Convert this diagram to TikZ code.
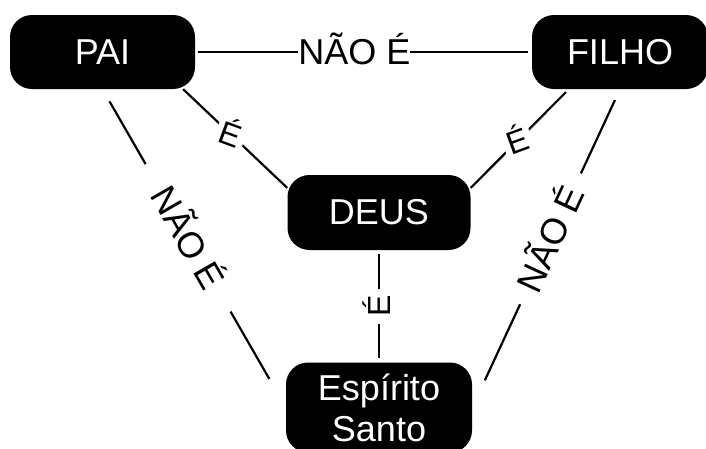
\documentclass[tikz,border=0pt]{standalone}
\usepackage{fontspec}
\setmainfont{Liberation Sans}
\usetikzlibrary{calc}

\begin{document}
\begin{tikzpicture}[x=1pt,y=-1pt]
                        \tikzstyle{every node}=[inner sep=0]
                        \tikzstyle{pessoa}=[fill=black,text=white,rounded corners=22,minimum width=185,minimum height=74,font=\fontsize{36}{41}\selectfont]
                        \tikzstyle{ligacao}=[draw=black,line width=2.2]
                        \tikzstyle{rotulo}=[fill=white,text=black,text height=26,font=\fontsize{36}{41}\selectfont]
                        \tikzstyle{rotulo0}=[rotulo,text height=23,inner sep=4,font=\fontsize{32}{36}\selectfont]
                        {
                            \useasboundingbox (0,0) rectangle (706,448);
                            \fill[white] (0,0) rectangle (706,448);

                            \node[pessoa] (pai) at (102.5,52) {PAI};
                            \node[pessoa,minimum width=176] (filho) at (620,52) {FILHO};
                            \node[pessoa,minimum width=183,minimum height=75] (deus) at (379,212.5) {DEUS};
                            \node[pessoa,minimum width=186,minimum height=90,align=center] (espirito) at (379,407.5) {Espírito\\Santo};

                            \draw[ligacao,shorten <=3,shorten >=4] (pai) -- node[rotulo,pos=0.473] {NÃO É} (filho);
                            \draw[ligacao,shorten <=14,shorten >=33] (pai.south) -- node[rotulo,sloped,pos=0.467,inner xsep=29] {NÃO É} (espirito.west);
                            \draw[ligacao,shorten <=12,shorten >=30] (filho.south) -- node[rotulo,sloped,pos=0.47,inner xsep=16] {NÃO É} (espirito.east);

                            \draw[ligacao] ($(pai.south)!0.87!(pai.south east)$) -- node[rotulo0,rotate=-20,pos=0.457] {É} (deus.165);
                            \draw[ligacao,shorten <=4] ($(filho.south)!0.58!(filho.south west)$) -- node[rotulo0,rotate=20,pos=0.525] {É} (deus.15);
                            \draw[ligacao,shorten <=4,shorten >=4] (deus) -- node[rotulo0,rotate=90,pos=0.5,inner xsep=7] {É} (espirito);
                        }
\end{tikzpicture}
\end{document}
